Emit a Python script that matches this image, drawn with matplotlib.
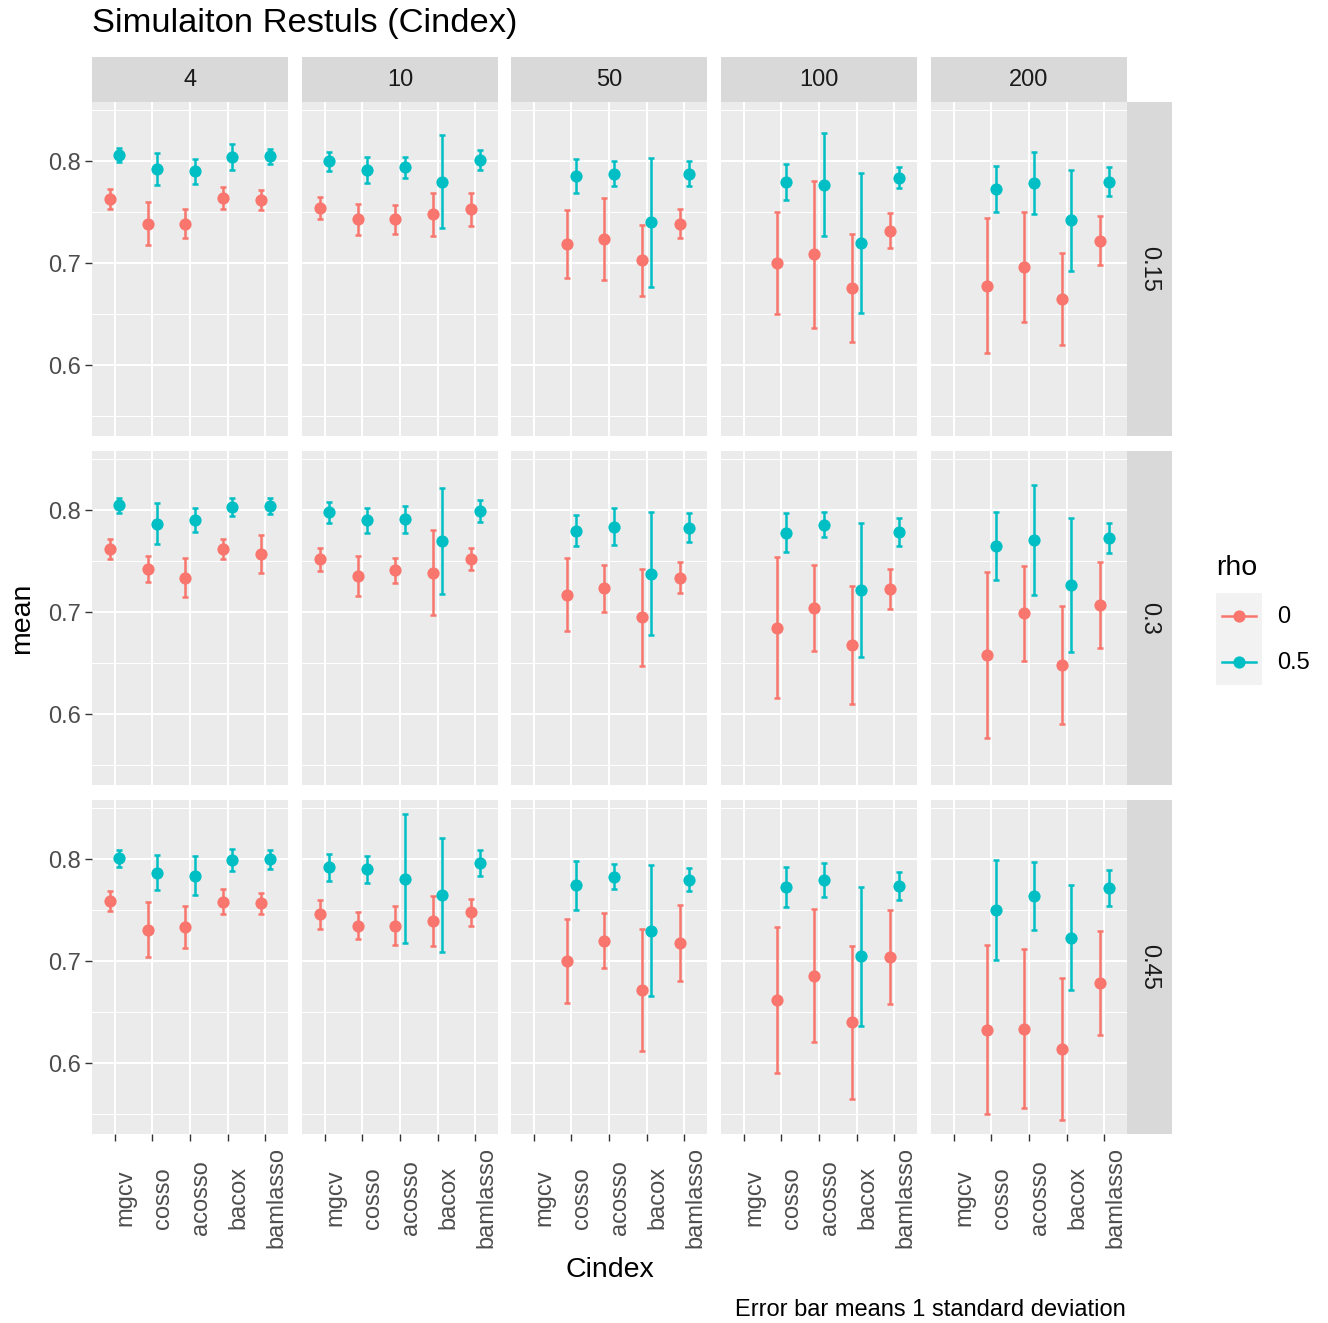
import numpy as np
import matplotlib
matplotlib.use('Agg')
import matplotlib.pyplot as plt
from matplotlib.ticker import FixedLocator
from matplotlib.patches import Rectangle

nan = np.nan

methods = ['mgcv', 'cosso', 'acosso', 'bacox', 'bamlasso']
p_levels = ['4', '10', '50', '100', '200']
cor_levels = ['0.15', '0.3', '0.45']
rho_levels = ['0', '0.5']
rho_colors = ['#F8766D', '#00BFC4']

# rows of each array: p = 4, 10, 50, 100, 200 ; columns: methods
mean_015_rho0 = [
    [0.763, 0.739, 0.739, 0.764, 0.762],
    [0.754, 0.743, 0.743, 0.748, 0.753],
    [nan, 0.719, 0.724, 0.703, 0.739],
    [nan, 0.700, 0.709, 0.676, 0.732],
    [nan, 0.678, 0.696, 0.665, 0.722],
]
sd_015_rho0 = [
    [0.010, 0.021, 0.0145, 0.011, 0.010],
    [0.011, 0.015, 0.014, 0.021, 0.016],
    [nan, 0.033, 0.040, 0.035, 0.014],
    [nan, 0.050, 0.072, 0.053, 0.0175],
    [nan, 0.066, 0.054, 0.045, 0.024],
]
mean_015_rho05 = [
    [0.806, 0.7925, 0.790, 0.804, 0.805],
    [0.800, 0.7915, 0.794, 0.780, 0.801],
    [nan, 0.786, 0.788, 0.740, 0.788],
    [nan, 0.780, 0.777, 0.720, 0.784],
    [nan, 0.773, 0.779, 0.742, 0.780],
]
sd_015_rho05 = [
    [0.007, 0.016, 0.012, 0.0127, 0.0074],
    [0.0095, 0.0127, 0.010, 0.0456, 0.0098],
    [nan, 0.0167, 0.0126, 0.0634, 0.0123],
    [nan, 0.0175, 0.0503, 0.0683, 0.0103],
    [nan, 0.0227, 0.0304, 0.0493, 0.0145],
]

mean_03_rho0 = [
    [0.762, 0.7425, 0.734, 0.762, 0.757],
    [0.752, 0.736, 0.741, 0.739, 0.752],
    [nan, 0.717, 0.7235, 0.695, 0.734],
    [nan, 0.685, 0.704, 0.668, 0.723],
    [nan, 0.658, 0.699, 0.648, 0.707],
]
sd_03_rho0 = [
    [0.010, 0.013, 0.019, 0.010, 0.0188],
    [0.0113, 0.0196, 0.0123, 0.0412, 0.0108],
    [nan, 0.0358, 0.0229, 0.0477, 0.015],
    [nan, 0.0688, 0.042, 0.058, 0.0198],
    [nan, 0.0812, 0.0464, 0.0578, 0.0423],
]
mean_03_rho05 = [
    [0.805, 0.787, 0.7905, 0.803, 0.804],
    [0.798, 0.790, 0.791, 0.770, 0.799],
    [nan, 0.780, 0.784, 0.738, 0.783],
    [nan, 0.778, 0.786, 0.722, 0.779],
    [nan, 0.765, 0.771, 0.727, 0.773],
]
sd_03_rho05 = [
    [0.0072, 0.020, 0.0118, 0.009, 0.008],
    [0.010, 0.0123, 0.0129, 0.052, 0.0106],
    [nan, 0.0155, 0.0185, 0.060, 0.0144],
    [nan, 0.019, 0.0121, 0.066, 0.0136],
    [nan, 0.0337, 0.054, 0.0658, 0.0149],
]

mean_045_rho0 = [
    [0.759, 0.731, 0.734, 0.7585, 0.757],
    [0.746, 0.735, 0.735, 0.7395, 0.748],
    [nan, 0.700, 0.720, 0.672, 0.718],
    [nan, 0.662, 0.686, 0.640, 0.704],
    [nan, 0.633, 0.634, 0.614, 0.679],
]
sd_045_rho0 = [
    [0.0095, 0.0268, 0.0206, 0.0124, 0.0103],
    [0.0139, 0.0131, 0.019, 0.0247, 0.0132],
    [nan, 0.041, 0.027, 0.060, 0.0371],
    [nan, 0.0714, 0.0652, 0.0748, 0.0459],
    [nan, 0.0825, 0.0778, 0.0696, 0.0508],
]
mean_045_rho05 = [
    [0.801, 0.787, 0.784, 0.799, 0.800],
    [0.792, 0.790, 0.781, 0.765, 0.796],
    [nan, 0.7745, 0.783, 0.730, 0.780],
    [nan, 0.773, 0.780, 0.705, 0.774],
    [nan, 0.750, 0.764, 0.723, 0.772],
]
sd_045_rho05 = [
    [0.0085, 0.0168, 0.0188, 0.0106, 0.0092],
    [0.0134, 0.0136, 0.0634, 0.0557, 0.0127],
    [nan, 0.0242, 0.0126, 0.0645, 0.0114],
    [nan, 0.0199, 0.0168, 0.068, 0.0137],
    [nan, 0.049, 0.0337, 0.0516, 0.0178],
]

means = {
    '0.15': [mean_015_rho0, mean_015_rho05],
    '0.3': [mean_03_rho0, mean_03_rho05],
    '0.45': [mean_045_rho0, mean_045_rho05],
}
sds = {
    '0.15': [sd_015_rho0, sd_015_rho05],
    '0.3': [sd_03_rho0, sd_03_rho05],
    '0.45': [sd_045_rho0, sd_045_rho05],
}

plt.rcParams['font.family'] = ['Liberation Sans', 'DejaVu Sans']

W, H = 1328, 1323
fig = plt.figure(figsize=(W / 100, H / 100), dpi=100)
fig.patch.set_facecolor('white')

col_left = [92, 302, 511, 721, 931]
panel_w = 196
row_top = [102, 451, 800]
panel_h = 334
strip = 45
ylo, yhi = 0.5307, 0.8581
dodge = 0.25

TXT = '#4D4D4D'
TICK = '#333333'


def fbox(x0, y0, w, h):
    return [x0 / W, 1 - (y0 + h) / H, w / W, h / H]


for r, cor in enumerate(cor_levels):
    for c, p in enumerate(p_levels):
        ax = fig.add_axes(fbox(col_left[c], row_top[r], panel_w, panel_h))
        ax.set_facecolor('#EBEBEB')
        ax.set_xlim(0.4, 5.6)
        ax.set_ylim(ylo, yhi)
        ax.yaxis.set_major_locator(FixedLocator([0.6, 0.7, 0.8]))
        ax.yaxis.set_minor_locator(FixedLocator([0.55, 0.65, 0.75, 0.85]))
        ax.set_xticks(np.arange(1, 6))
        ax.set_axisbelow(True)
        ax.grid(which='major', color='white', lw=1.5)
        ax.grid(which='minor', axis='y', color='white', lw=0.75)
        for s in ax.spines.values():
            s.set_visible(False)

        for k in range(2):
            m = np.array(means[cor][k][c], dtype=float)
            sd = np.array(sds[cor][k][c], dtype=float)
            x = np.arange(1, 6) + (k - 0.5) * dodge
            ax.errorbar(x, m, yerr=sd, fmt='none', ecolor=rho_colors[k],
                        elinewidth=1.8, capsize=2, capthick=1.8, zorder=2)
            ax.plot(x, m, 'o', ms=8.8, color=rho_colors[k], mec='none', zorder=3)

        ax.tick_params(axis='y', which='minor', length=0)
        if c == 0:
            ax.tick_params(axis='y', which='major', length=5, width=1,
                           color=TICK, labelsize=17, labelcolor=TXT, pad=3)
            ax.set_yticklabels(['0.6', '0.7', '0.8'])
        else:
            ax.tick_params(axis='y', which='major', length=0, labelleft=False)

        if r == 2:
            ax.tick_params(axis='x', length=5, width=1, color=TICK,
                           labelsize=17, labelcolor=TXT, pad=41)
            ax.set_xticklabels(methods, rotation=90, va='center', ha='left')
        else:
            ax.tick_params(axis='x', length=0, labelbottom=False)

# top strips
for c, p in enumerate(p_levels):
    fig.add_artist(Rectangle((col_left[c] / W, 1 - row_top[0] / H), panel_w / W, strip / H,
                             transform=fig.transFigure, fc='#D9D9D9', ec='none'))
    fig.text((col_left[c] + panel_w / 2) / W, 1 - (row_top[0] - strip / 2) / H, p,
             ha='center', va='center', fontsize=17, color='#1A1A1A')

# right strips
sx = col_left[-1] + panel_w
for r, cor in enumerate(cor_levels):
    fig.add_artist(Rectangle((sx / W, 1 - (row_top[r] + panel_h) / H), strip / W, panel_h / H,
                             transform=fig.transFigure, fc='#D9D9D9', ec='none'))
    fig.text((sx + strip / 2) / W, 1 - (row_top[r] + panel_h / 2) / H, cor,
             ha='center', va='center', rotation=270, fontsize=17, color='#1A1A1A')

# titles
fig.text(92 / W, 1 - 32 / H, 'Simulaiton Restuls (Cindex)', ha='left', va='baseline',
         fontsize=24.8, color='black')
fig.text(22 / W, 1 - 618 / H, 'mean', rotation=90, ha='center', va='center',
         fontsize=20.5, color='black')
fig.text(609.5 / W, 1 - 1270 / H, 'Cindex', ha='center', va='center',
         fontsize=20.5, color='black')
fig.text(1126 / W, 1 - 1310 / H, 'Error bar means 1 standard deviation', ha='right',
         va='center', fontsize=17, color='black')

# legend
fig.text(1216 / W, 1 - 568 / H, 'rho', ha='left', va='center', fontsize=20.5, color='black')
lax = fig.add_axes(fbox(1216, 593, 46, 92))
lax.set_facecolor('#F2F2F2')
lax.set_xlim(0, 1)
lax.set_ylim(2, 0)
lax.set_xticks([])
lax.set_yticks([])
for s in lax.spines.values():
    s.set_visible(False)
for k, lab in enumerate(rho_levels):
    lax.plot([0.12, 0.88], [k + 0.5, k + 0.5], color=rho_colors[k], lw=1.8)
    lax.plot([0.5], [k + 0.5], 'o', ms=8.8, color=rho_colors[k], mec='none')
    fig.text(1277 / W, 1 - (593 + 24 + 46 * k) / H, lab, ha='left', va='center',
             fontsize=17, color='black')

fig.savefig('out.png', dpi=100, facecolor='white')
